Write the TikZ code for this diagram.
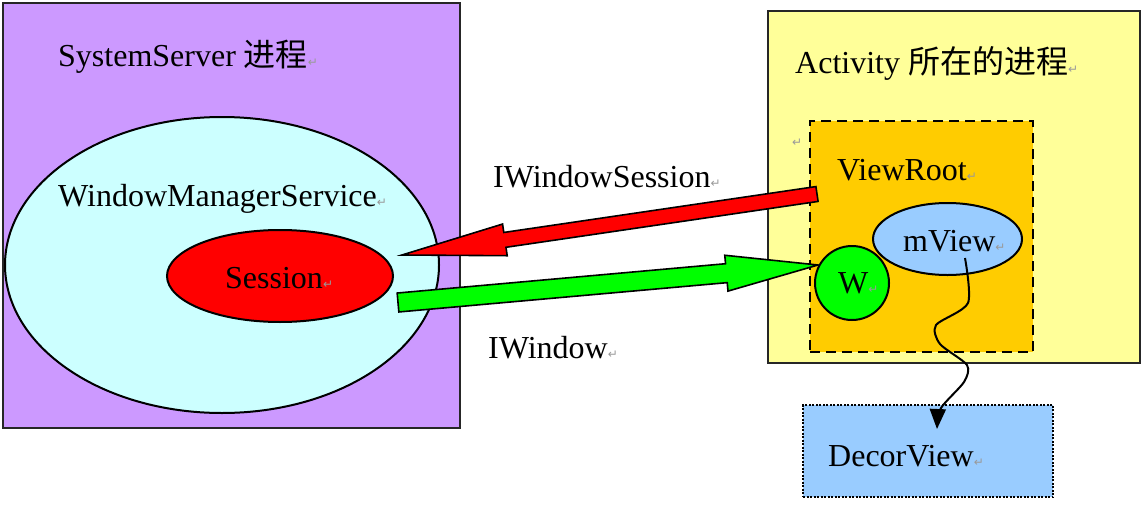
\documentclass[tikz,border=0pt]{standalone}
\usepackage{fontspec}
\setmainfont{Liberation Serif}
\newfontfamily\cjk{Noto Sans CJK SC}
\newfontfamily\dejavu{DejaVu Sans}
\usetikzlibrary{shapes.geometric,arrows.meta,calc}
\definecolor{procpurple}{RGB}{204,153,255}
\definecolor{wmscyan}{RGB}{204,255,255}
\definecolor{actyellow}{RGB}{255,255,153}
\definecolor{rootorange}{RGB}{255,204,0}
\definecolor{viewblue}{RGB}{153,204,255}
\definecolor{wgreen}{RGB}{0,255,0}
\newcommand\retmark{{\color{gray!80}\fontsize{12}{12}\dejavu ↵}}
% block arrow: #1 tail, #2 tip, #3 shaft half width, #4 head half width, #5 head length, #6 colour
\newcommand\blockarrow[6]{%
  \path ($(#2)!#5!(#1)$) coordinate (hb);
  \filldraw[blockline, fill=#6]
    ($(#1)!#3!90:(#2)$) -- ($(hb)!#3!90:(#2)$) -- ($(hb)!#4!90:(#2)$) -- (#2)
    -- ($(hb)!#4!-90:(#2)$) -- ($(hb)!#3!-90:(#2)$) -- ($(#1)!#3!-90:(#2)$) -- cycle;
}
\begin{document}
\begin{tikzpicture}[x=1pt,y=-1pt,
  every node/.style={font=\fontsize{32}{38}\selectfont},
  lbl/.style={anchor=base west, inner sep=0pt},
  procbox/.style={draw=black!85, line width=2pt},
  blob/.style={ellipse, draw=black, line width=2pt, inner sep=0pt},
  blockline/.style={draw=black, line width=1.6pt, line join=miter},
]
\useasboundingbox (0,0) rectangle (1145,506);

% SystemServer process
\node[procbox, fill=procpurple, minimum width=457, minimum height=425, inner sep=0pt] (sys) at (231.5,215.5) {};
\node[lbl] (systxt) at (58,66) {SystemServer {\cjk 进程}\retmark};
\node[blob, fill=wmscyan, minimum width=434, minimum height=296] (wms) at (222,265) {};
\node[lbl] (wmstxt) at (58,206) {WindowManagerService\retmark};
\node[blob, fill=red, minimum width=226, minimum height=92] (sess) at (280,276) {};
\node[lbl] (sesstxt) at (225,288) {Session\retmark};

% Activity process
\node[procbox, fill=actyellow, minimum width=372, minimum height=352, inner sep=0pt] (act) at (954,187) {};
\node[lbl] (acttxt) at (795,73) {Activity {\cjk 所在的进程}\retmark};
\node[lbl] (stray) at (792,146) {\retmark};
\node[draw=black, dash pattern=on 10pt off 6pt, line width=2.4pt, fill=rootorange, minimum width=223, minimum height=231, inner sep=0pt] (root) at (921.5,236.5) {};
\node[lbl] (roottxt) at (837,180) {ViewRoot\retmark};
\node[blob, fill=viewblue, minimum width=149, minimum height=72] (mview) at (947.5,239) {};
\node[lbl] (mviewtxt) at (903,251) {mView\retmark};

% DecorView
\node[draw=black, dash pattern=on 2pt off 1.5pt, line width=2.2pt, fill=viewblue, minimum width=250, minimum height=92, inner sep=0pt] (decor) at (928,451) {};
\node[lbl] (decortxt) at (828,466) {DecorView\retmark};

% block arrows
\coordinate (rtail) at (817,194);
\coordinate (rtip) at (402,255);
\blockarrow{rtail}{rtip}{7.5pt}{16pt}{104pt}{red}
\coordinate (gtail) at (398,302.5);
\coordinate (gtip) at (818,265);
\blockarrow{gtail}{gtip}{9.5pt}{18pt}{92pt}{wgreen}

% W circle
\node[circle, draw=black, line width=2pt, fill=wgreen, minimum size=74, inner sep=0pt] (w) at (852,283) {};
\node[lbl] (wtxt) at (838,293) {W\retmark};

\node[lbl] (iws) at (493,187) {IWindowSession\retmark};
\node[lbl] (iw) at (488,358) {IWindow\retmark};

% mView -> DecorView wavy reference
\coordinate (mvs) at (965,258);
\coordinate (dvt) at (937,429);
\draw[line width=2pt, -{Triangle[length=20pt,width=16pt]}]
  plot[smooth, tension=0.45] coordinates {(mvs) (968,303) (936,325) (940,344) (967,365) (964,382) (941,408) (dvt)};
\end{tikzpicture}
\end{document}
